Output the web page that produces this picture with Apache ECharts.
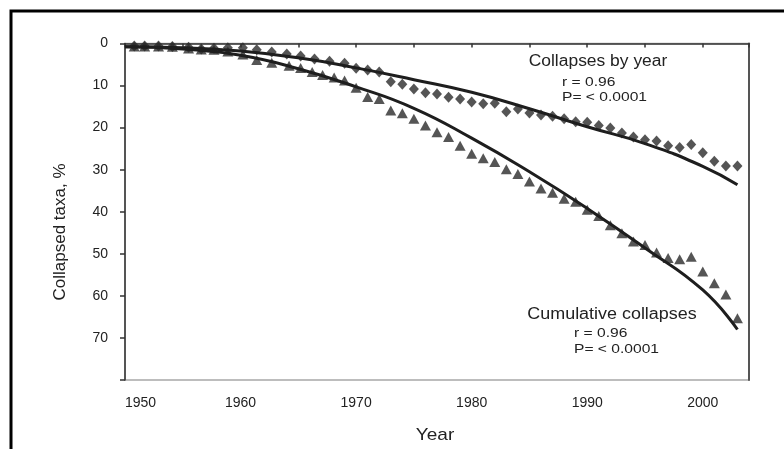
<!DOCTYPE html>
<html>
<head>
<meta charset="utf-8">
<script src="https://cdn.jsdelivr.net/npm/echarts@6/dist/echarts.min.js"></script>
<style>
html,body{margin:0;padding:0;background:#fff;}
#chart{width:784px;height:449px;}
</style>
</head>
<body>
<div id="chart"></div>
<script>
// ---- Data ----
// Collapses by year (diamonds): x = year, y = % collapsed taxa
const byYearX = [1950.8,1951.7,1952.9,1954.1,1955.5,1956.6,1957.7,1958.9,1960.2,1961.4,1962.7,1964.0,1965.2,1966.4,1967.7,1969.0,
  1970,1971,1972,1973,1974,1975,1976,1977,1978,1979,1980,1981,1982,1983,1984,1985,1986,1987,1988,1989,1990,1991,1992,1993,1994,1995,1996,1997,1998,1999,2000,2001,2002,2003];
const byYearY = [0.6,0.6,0.6,0.7,0.9,1.3,1.1,1.0,1.0,1.5,2.0,2.5,3.0,3.7,4.2,4.7,
  5.9,6.3,6.8,9.1,9.7,10.8,11.7,12.0,12.8,13.2,13.9,14.3,14.2,16.2,15.6,16.5,17.0,17.3,17.9,18.6,18.7,19.5,20.1,21.3,22.2,22.9,23.2,24.3,24.7,24.0,26.0,28.0,29.1,29.1];

// Cumulative collapses (triangles)
const cumX = [1950.8,1951.7,1952.9,1954.1,1955.5,1956.6,1957.7,1958.9,1960.2,1961.4,1962.7,1964.2,1965.2,1966.2,1967.1,1968.1,1969.0,
  1970,1971,1972,1973,1974,1975,1976,1977,1978,1979,1980,1981,1982,1983,1984,1985,1986,1987,1988,1989,1990,1991,1992,1993,1994,1995,1996,1997,1998,1999,2000,2001,2002,2003];
const cumY = [0.7,0.7,0.7,0.8,1.2,1.4,1.5,1.9,2.6,3.9,4.6,5.3,5.8,6.8,7.5,8.1,8.8,
  10.5,12.7,13.2,15.9,16.6,17.9,19.5,21.1,22.2,24.3,26.2,27.3,28.2,29.9,31.0,32.8,34.5,35.5,36.9,37.6,39.5,41.0,43.2,45.1,47.1,47.9,49.7,51.0,51.3,50.7,54.2,57.0,59.7,65.3];

// Fitted curves
const fitX = [1950,1955,1960,1965,1970,1975,1980,1985,1990,1995,2000,2003];
const fitByYear = [0.8,1.0,1.8,3.4,5.8,8.6,11.6,15.5,19.8,23.8,29.2,33.6];
const fitCum = [0.8,1.3,2.8,6.0,10.3,15.4,22.5,30.5,39.2,48.6,58.6,68.0];

const yTicks = [0,10,20,30,40,50,60,70,80];
const xLabelYears = [1950,1960,1970,1980,1990,2000];

const pairs = (xs, ys) => xs.map((x, i) => [x, ys[i]]);

const FONT = 'Liberation Sans, Arial, sans-serif';
const TXT = '#222';

const chart = echarts.init(document.getElementById('chart'), null, {renderer: 'canvas'});
chart.setOption({
  backgroundColor: '#fff',
  animation: false,
  grid: {left: 125, right: 35, top: 43.5, bottom: 69, show: true, borderColor: '#a8a8a8', borderWidth: 1.5},
  xAxis: {
    type: 'value', min: 1950, max: 2004, interval: 5,
    axisLine: {show: true, lineStyle: {color: '#333', width: 1.5}},
    axisTick: {show: true, length: 4, lineStyle: {color: '#333', width: 1.5}},
    splitLine: {show: false},
    axisLabel: {
      margin: 16, fontSize: 14, color: TXT, fontFamily: FONT,
      alignMinLabel: 'left',
      formatter: v => (xLabelYears.indexOf(v) >= 0 ? String(v) : '')
    }
  },
  yAxis: [{
    type: 'value', inverse: true, min: 0, max: 80, interval: 10,
    axisLine: {show: true, lineStyle: {color: '#333', width: 1.5}},
    axisTick: {show: true, length: 5, lineStyle: {color: '#333', width: 1.5}},
    splitLine: {show: false},
    axisLabel: {
      margin: 17, fontSize: 14, color: TXT, fontFamily: FONT,
      formatter: v => (v === 80 ? '' : (yTicks.indexOf(v) >= 0 ? String(v) : ''))
    }
  }, {
    type: 'value', inverse: true, min: 0, max: 80, position: 'right',
    axisLine: {show: true, lineStyle: {color: '#555', width: 2}},
    axisTick: {show: false}, axisLabel: {show: false}, splitLine: {show: false}
  }],
  series: [
    {type: 'scatter', name: 'Collapses by year', data: pairs(byYearX, byYearY),
     symbol: 'diamond', symbolSize: [10, 11], itemStyle: {color: '#2a2a2a'}, z: 2, clip: false},
    {type: 'scatter', name: 'Cumulative collapses', data: pairs(cumX, cumY),
     symbol: 'triangle', symbolSize: [11, 10], itemStyle: {color: '#2a2a2a'}, z: 2, clip: false},
    {type: 'line', name: 'fit by year', data: pairs(fitX, fitByYear), smooth: 0.5, showSymbol: false,
     lineStyle: {color: '#1e1e1e', width: 3}, z: 3},
    {type: 'line', name: 'fit cumulative', data: pairs(fitX, fitCum), smooth: 0.5, showSymbol: false,
     lineStyle: {color: '#1e1e1e', width: 3}, z: 3}
  ],
  graphic: [
    {type: 'rect', shape: {x: 11, y: 11, width: 820, height: 520}, style: {fill: 'none', stroke: '#000', lineWidth: 3}, silent: true},
    {type: 'text', x: 60, y: 232, rotation: Math.PI / 2,
     style: {text: 'Collapsed taxa, %', font: '17px ' + FONT, fill: TXT, textAlign: 'center', textVerticalAlign: 'middle'}},
    {type: 'text', x: 435, y: 435, scaleX: 1.12,
     style: {text: 'Year', font: '17px ' + FONT, fill: TXT, textAlign: 'center', textVerticalAlign: 'middle'}},
    {type: 'text', x: 598, y: 62, scaleX: 1.09,
     style: {text: 'Collapses by year', font: '16px ' + FONT, fill: TXT, textAlign: 'center', textVerticalAlign: 'middle'}},
    {type: 'text', x: 562, y: 82, scaleX: 1.2,
     style: {text: 'r = 0.96', font: '13px ' + FONT, fill: TXT, textAlign: 'left', textVerticalAlign: 'middle'}},
    {type: 'text', x: 562, y: 97, scaleX: 1.2,
     style: {text: 'P= < 0.0001', font: '13px ' + FONT, fill: TXT, textAlign: 'left', textVerticalAlign: 'middle'}},
    {type: 'text', x: 612, y: 315, scaleX: 1.12,
     style: {text: 'Cumulative collapses', font: '16px ' + FONT, fill: TXT, textAlign: 'center', textVerticalAlign: 'middle'}},
    {type: 'text', x: 574, y: 333, scaleX: 1.2,
     style: {text: 'r = 0.96', font: '13px ' + FONT, fill: TXT, textAlign: 'left', textVerticalAlign: 'middle'}},
    {type: 'text', x: 574, y: 349, scaleX: 1.2,
     style: {text: 'P= < 0.0001', font: '13px ' + FONT, fill: TXT, textAlign: 'left', textVerticalAlign: 'middle'}}
  ]
});
</script>
</body>
</html>
